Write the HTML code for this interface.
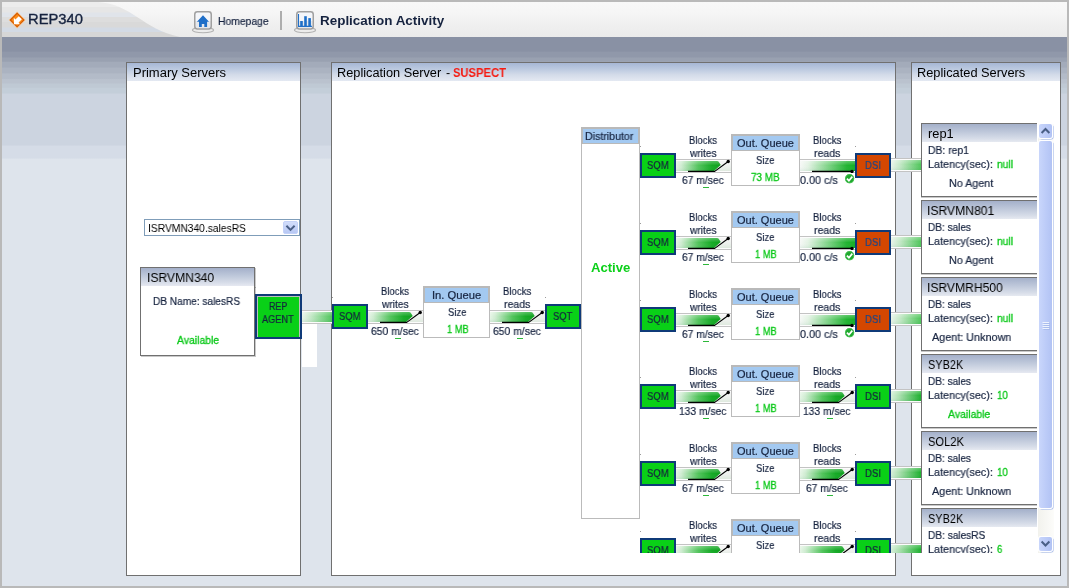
<!DOCTYPE html><html><head><meta charset="utf-8"><title>Replication Activity</title><style>
html,body{margin:0;padding:0}
body{width:1069px;height:588px;overflow:hidden;position:relative;background:#b9b9b9;font-family:"Liberation Sans",sans-serif;font-size:11px;color:#1d2b4c}
div,span,svg{position:absolute;box-sizing:border-box}
.t{white-space:nowrap;transform-origin:0 0;line-height:20px;will-change:transform;-webkit-text-stroke:0.2px}
#hdr{left:2px;top:2px;width:1065px;height:35px;background:linear-gradient(#f8f8f8 0%,#f5f5f5 35%,#f0f0f0 60%,#ebebeb 100%)}
#bg{left:2px;top:37px;width:1065px;height:549px;background:linear-gradient(to bottom,#8991a4 0px,#8991a4 14.1px,#9098aa 15.3px,#9098aa 19.9px,#99a1b1 21.1px,#99a1b1 24.2px,#a3abba 25.4px,#a3abba 30px,#abb3c1 31.2px,#abb3c1 35.8px,#b3bbc8 37px,#b3bbc8 41.4px,#bac2ce 42.6px,#bac2ce 45.9px,#bfc9d4 47.1px,#bfc9d4 50.2px,#c3ced9 51.4px,#c3ced9 56px,#ccd4e0 57.2px,#ccd4e0 108px,#d5dce7 109.2px,#d5dce7 121px,#dee4ec 122.2px,#dee4ec 549px)}
.panel{background:#fff;border:1px solid #707070}
.ptitle{left:0;top:0;right:0;height:18px;background:linear-gradient(#a6b7d5 0%,#bccae0 35%,#d3dbe9 65%,#e4e9f2 100%)}
.gbox{background:#09d017;border:2px solid #0f3a78}
.rbox{background:#d44701;border:2px solid #0f3a78}
.q{background:#fff;border:1px solid #bbb}
.qh{left:-1px;top:-1px;right:-1px;background:#a3c9f1;border:2px solid #b9b9b9;border-bottom-width:1px}
.card{background:#fff;border:1px solid #707070;border-right:none;box-shadow:0 1px 0 #c9c9c9}
.ch{left:0;top:0;right:0;height:18px;background:linear-gradient(#a4b0ca 0%,#bcc6d9 40%,#d6dce8 80%,#e6e9f1 100%)}
</style></head><body>
<div id="hdr"></div><div id="bg"></div>
<svg width="0" height="0" style="left:0;top:0"><defs><linearGradient id="gR" x1="0" y1="0" x2="1" y2="0"><stop offset="0" stop-color="#e6f5e6"/><stop offset="0.12" stop-color="#cfecd1"/><stop offset="0.5" stop-color="#52c45c"/><stop offset="0.8" stop-color="#16aa26"/><stop offset="1" stop-color="#0fa01e"/></linearGradient><linearGradient id="gP" x1="0" y1="0" x2="1" y2="0"><stop offset="0" stop-color="#eaf4ea"/><stop offset="0.3" stop-color="#c4e8c7"/><stop offset="1" stop-color="#50c65b"/></linearGradient><linearGradient id="gD" x1="0" y1="0" x2="1" y2="0"><stop offset="0" stop-color="#d8f0da"/><stop offset="0.3" stop-color="#a6deab"/><stop offset="1" stop-color="#1db02e"/></linearGradient><linearGradient id="gF" x1="0" y1="0" x2="1" y2="0"><stop offset="0" stop-color="#f6f8f6"/><stop offset="0.15" stop-color="#e2f2e3"/><stop offset="0.55" stop-color="#74d07d"/><stop offset="0.85" stop-color="#22b432"/><stop offset="1" stop-color="#14ae24"/></linearGradient><linearGradient id="gV" x1="0" y1="0" x2="0" y2="1"><stop offset="0" stop-color="#fff" stop-opacity="0.28"/><stop offset="0.45" stop-color="#fff" stop-opacity="0"/><stop offset="1" stop-color="#063" stop-opacity="0.08"/></linearGradient><linearGradient id="gT" x1="0" y1="0" x2="0" y2="1"><stop offset="0" stop-color="#f6f6f6"/><stop offset="0.5" stop-color="#eef1ee"/><stop offset="1" stop-color="#dfeadf"/></linearGradient><linearGradient id="sb" x1="0" y1="0" x2="1" y2="0"><stop offset="0" stop-color="#c9d6fb"/><stop offset="0.5" stop-color="#bdccf8"/><stop offset="1" stop-color="#b2c3f4"/></linearGradient><linearGradient id="tr" x1="0" y1="0" x2="1" y2="0"><stop offset="0" stop-color="#f2f2ed"/><stop offset="1" stop-color="#fcfcfa"/></linearGradient></defs></svg>
<svg style="left:2px;top:2px" width="200" height="35" viewBox="0 0 200 35"><defs><linearGradient id="sw" x1="0" y1="0" x2="0" y2="1"><stop offset="0.0000" stop-color="#ececec"/><stop offset="0.1286" stop-color="#ececec"/><stop offset="0.1571" stop-color="#e6e6e6"/><stop offset="0.2857" stop-color="#e6e6e6"/><stop offset="0.3143" stop-color="#e0e4ea"/><stop offset="0.4143" stop-color="#e0e4ea"/><stop offset="0.4429" stop-color="#dddddd"/><stop offset="0.5571" stop-color="#dddddd"/><stop offset="0.5857" stop-color="#d9d9d9"/><stop offset="0.7143" stop-color="#d9d9d9"/><stop offset="0.7429" stop-color="#d3dae4"/><stop offset="0.8429" stop-color="#d3dae4"/><stop offset="0.8714" stop-color="#d6d6d6"/><stop offset="1.0000" stop-color="#d6d6d6"/></linearGradient></defs><path d="M0 0 L96 0 C130 2 140 27 178 35 L0 35 Z" fill="url(#sw)"/></svg>
<svg style="left:8px;top:11px" width="18" height="18" viewBox="0 0 18 18"><path d="M9.1 0.6 L17.5 9 L9.1 17.4 L0.7 9 Z" fill="#f8c48c"/><path d="M9.1 1.4 L16.7 9 L9.1 16.6 L1.5 9 Z" fill="#d25800"/><path d="M9.1 3 L15.1 9 L9.1 15 L3.1 9 Z" fill="#fb8a18"/><path d="M6 13.2 L5.8 6.8 L7.44 8.44 L10.74 5.14 L13.86 8.26 L10.56 11.56 L12 13.2 Z" fill="#fff"/></svg>
<span class="t" style="left:27.85px;top:9px;font-size:14px;color:#16233f;-webkit-text-stroke:0.35px;transform:scaleX(1.0534);">REP340</span>
<svg style="left:191px;top:9px" width="24" height="26" viewBox="0 0 24 26"><ellipse cx="12" cy="21.1" rx="10.6" ry="2.6" fill="#ececec" stroke="#b2b2b2" stroke-width="1.1"/><rect x="3.75" y="2.85" width="16.5" height="17.1" rx="2.6" fill="#f4f6fa" stroke="#a0a0a0" stroke-width="1.5"/><rect x="4.5" y="12" width="15" height="7.2" fill="#000" opacity="0.055"/><path d="M12 6.2 L18 12.8 L16.1 12.8 L16.1 17.9 L13.3 17.9 L13.3 14.9 L10.8 14.9 L10.8 17.9 L8 17.9 L8 12.8 L5.9 12.8 Z" fill="#1f6fc8"/></svg>
<span class="t" style="left:217.70px;top:11px;font-size:11px;color:#16233f;transform:scaleX(0.9405);">Homepage</span>
<div style="left:280px;top:11px;width:2px;height:19px;background:#adadad"></div>
<svg style="left:293px;top:9px" width="24" height="26" viewBox="0 0 24 26"><ellipse cx="12" cy="21.1" rx="10.6" ry="2.6" fill="#ececec" stroke="#b2b2b2" stroke-width="1.1"/><rect x="3.75" y="2.85" width="16.5" height="17.1" rx="2.6" fill="#f4f6fa" stroke="#a0a0a0" stroke-width="1.5"/><rect x="4.5" y="12" width="15" height="7.2" fill="#000" opacity="0.055"/><path d="M5.5 4.9 L5.5 17.4 L18.9 17.4" fill="none" stroke="#1f6fc8" stroke-width="1.1"/><rect x="7.2" y="12" width="2.6" height="5.4" fill="#1f6fc8"/><rect x="11.2" y="7.2" width="2.6" height="10.2" fill="#1f6fc8"/><rect x="15.3" y="9.1" width="2.6" height="8.3" fill="#1f6fc8"/></svg>
<span class="t" style="left:319.50px;top:11px;font-size:13px;color:#16233f;font-weight:bold;-webkit-text-stroke:0;transform:scaleX(1.0337);">Replication Activity</span>
<div class="panel" style="left:126px;top:62px;width:175px;height:514px"><div class="ptitle"></div></div>
<div class="panel" style="left:331px;top:62px;width:565px;height:514px"><div class="ptitle"></div></div>
<div class="panel" style="left:911px;top:62px;width:150px;height:514px"><div class="ptitle"></div></div>
<span class="t" style="left:132.56px;top:63px;font-size:12.5px;color:#000;-webkit-text-stroke:0;transform:scaleX(1.0391);">Primary Servers</span>
<span class="t" style="left:336.58px;top:63px;font-size:12.5px;color:#000;-webkit-text-stroke:0;transform:scaleX(1.0201);">Replication Server</span>
<span class="t" style="left:446.00px;top:63px;font-size:12.5px;color:#000;-webkit-text-stroke:0;transform:scaleX(0.9750);">-</span>
<span class="t" style="left:452.70px;top:63px;font-size:12.5px;color:#f51a10;font-weight:bold;-webkit-text-stroke:0;transform:scaleX(0.8956);">SUSPECT</span>
<span class="t" style="left:917.48px;top:63px;font-size:12.5px;color:#000;-webkit-text-stroke:0;transform:scaleX(1.0244);">Replicated Servers</span>
<div style="left:144px;top:219px;width:156px;height:17px;background:#fff;border:1px solid #7f9db9"></div>
<svg style="left:283px;top:221px" width="15" height="13" viewBox="0 0 15 13"><defs><linearGradient id="ddb" x1="0" y1="0" x2="0" y2="1"><stop offset="0" stop-color="#d3defb"/><stop offset="1" stop-color="#b6c7f4"/></linearGradient></defs><rect x="0.5" y="0.5" width="14" height="12" rx="1.5" fill="url(#ddb)" stroke="#c4d2f8"/><path d="M3.4 4.8 L7.5 8.9 L11.6 4.8" fill="none" stroke="#4a5f86" stroke-width="2"/></svg>
<span class="t" style="left:147.77px;top:218px;font-size:11px;color:#000;-webkit-text-stroke:0;transform:scaleX(0.9333);">ISRVMN340.salesRS</span>
<div class="card" style="left:140px;top:267px;width:115px;height:89px;border-right:1px solid #707070;box-shadow:1px 1px 0 #c9c9c9"><div class="ch" style="height:18px"></div></div>
<span class="t" style="left:146.93px;top:268px;font-size:12.5px;color:#000;-webkit-text-stroke:0;transform:scaleX(0.9708);">ISRVMN340</span>
<span class="t" style="left:152.70px;top:291px;font-size:11px;color:#16233f;transform:scaleX(0.9183);">DB Name: salesRS</span>
<span class="t" style="left:177.00px;top:330px;font-size:11px;color:#08c816;-webkit-text-stroke:0.3px;transform:scaleX(0.9476);">Available</span>
<div style="left:302px;top:324px;width:15px;height:43px;background:#fff"></div>
<svg style="left:302px;top:310px" width="30" height="14" viewBox="0 0 30 14"><rect x="0" y="0" width="30" height="14" fill="#fcfcfc"/><rect x="0" y="0" width="30" height="1" fill="#c3c3c3"/><rect x="0" y="13" width="30" height="1" fill="#c3c3c3"/><rect x="0" y="2" width="30" height="10" fill="url(#gP)"/><rect x="0" y="2" width="30" height="10" fill="url(#gV)"/></svg>
<div class="gbox" style="left:255px;top:294px;width:47px;height:45px;box-shadow:inset 1px 1px 0 #bcc2bc,inset -1px 0 0 #bcc2bc"></div>
<span class="t" style="left:268.80px;top:296px;font-size:11px;color:#16233f;transform:scaleX(0.8079);">REP</span>
<span class="t" style="left:262.10px;top:309px;font-size:11px;color:#16233f;transform:scaleX(0.8357);">AGENT</span>
<div class="gbox" style="left:332px;top:304px;width:36px;height:25px"></div>
<span class="t" style="left:339.00px;top:306px;font-size:11px;color:#16233f;transform:scaleX(0.8557);">SQM</span>
<svg style="left:368px;top:310px" width="55" height="14" viewBox="0 0 55 14"><rect x="0" y="0" width="55" height="14" fill="#fcfcfc"/><rect x="0" y="0" width="55" height="1" fill="#c3c3c3"/><rect x="0" y="13" width="55" height="1" fill="#c3c3c3"/><rect x="37" y="2" width="18" height="10" fill="url(#gT)"/><path d="M0 2 L41 2 Q42.5 2 43.5 4 L44.7 6 L38 12 L0 12 Z" fill="url(#gR)"/><path d="M0 2 L41 2 Q42.5 2 43.5 4 L44.7 6 L38 12 L0 12 Z" fill="url(#gV)"/><path d="M12 12.4 L38.7 12.4 L52.2 2.5" fill="none" stroke="#000" stroke-width="1.15" stroke-linejoin="round"/><circle cx="52.2" cy="2.5" r="1.7" fill="#000"/></svg>
<span class="t" style="left:380.70px;top:281px;font-size:11px;color:#16233f;transform:scaleX(0.8602);">Blocks</span>
<span class="t" style="left:381.93px;top:294px;font-size:11px;color:#16233f;transform:scaleX(0.9264);">writes</span>
<span class="t" style="left:370.85px;top:321px;font-size:11px;color:#16233f;transform:scaleX(0.9425);">650 m/sec</span>
<div style="left:394.5px;top:338px;width:6px;height:1px;background:#2db83a"></div>
<div class="q" style="left:423px;top:286px;width:67px;height:52px"><div class="qh" style="height:17px"></div></div><span class="t" style="left:431.78px;top:285px;font-size:11px;color:#16233f;transform:scaleX(1.0192);">In. Queue</span><span class="t" style="left:447.70px;top:302px;font-size:11px;color:#16233f;transform:scaleX(0.8646);">Size</span><span class="t" style="left:446.65px;top:319px;font-size:11px;color:#08c816;-webkit-text-stroke:0.3px;transform:scaleX(0.8486);">1 MB</span>
<svg style="left:490px;top:310px" width="55" height="14" viewBox="0 0 55 14"><rect x="0" y="0" width="55" height="14" fill="#fcfcfc"/><rect x="0" y="0" width="55" height="1" fill="#c3c3c3"/><rect x="0" y="13" width="55" height="1" fill="#c3c3c3"/><rect x="37" y="2" width="18" height="10" fill="url(#gT)"/><path d="M0 2 L41 2 Q42.5 2 43.5 4 L44.7 6 L38 12 L0 12 Z" fill="url(#gR)"/><path d="M0 2 L41 2 Q42.5 2 43.5 4 L44.7 6 L38 12 L0 12 Z" fill="url(#gV)"/><path d="M12 12.4 L38.7 12.4 L52.2 2.5" fill="none" stroke="#000" stroke-width="1.15" stroke-linejoin="round"/><circle cx="52.2" cy="2.5" r="1.7" fill="#000"/></svg>
<span class="t" style="left:502.60px;top:281px;font-size:11px;color:#16233f;transform:scaleX(0.8693);">Blocks</span>
<span class="t" style="left:503.50px;top:294px;font-size:11px;color:#16233f;transform:scaleX(0.9566);">reads</span>
<span class="t" style="left:492.85px;top:321px;font-size:11px;color:#16233f;transform:scaleX(0.9425);">650 m/sec</span>
<div style="left:516.5px;top:338px;width:6px;height:1px;background:#2db83a"></div>
<div class="gbox" style="left:545px;top:304px;width:36px;height:25px"></div>
<span class="t" style="left:552.60px;top:306px;font-size:11px;color:#16233f;transform:scaleX(0.8518);">SQT</span>
<div style="left:545px;top:297px;width:1px;height:1px;background:#9c9c9c"></div>
<div style="left:332px;top:297px;width:1px;height:1px;background:#9c9c9c"></div>
<div style="left:255px;top:287px;width:1px;height:1px;background:#9c9c9c"></div>
<div class="q" style="left:581px;top:127px;width:59px;height:392px"><div class="qh" style="height:17px"></div></div>
<span class="t" style="left:584.90px;top:126px;font-size:11px;color:#16233f;transform:scaleX(0.9651);">Distributor</span>
<span class="t" style="left:590.80px;top:258px;font-size:12.5px;color:#0cd01a;font-weight:bold;-webkit-text-stroke:0;transform:scaleX(1.0488);">Active</span>
<div style="left:0;top:0;width:1069px;height:553px;overflow:hidden">
<div class="gbox" style="left:640px;top:153px;width:36px;height:25px"></div>
<div style="left:640px;top:146px;width:1px;height:1px;background:#9c9c9c"></div>
<div style="left:855px;top:146px;width:1px;height:1px;background:#9c9c9c"></div>
<span class="t" style="left:646.80px;top:155px;font-size:11px;color:#16233f;transform:scaleX(0.8637);">SQM</span>
<svg style="left:676px;top:159px" width="55" height="14" viewBox="0 0 55 14"><rect x="0" y="0" width="55" height="14" fill="#fcfcfc"/><rect x="0" y="0" width="55" height="1" fill="#c3c3c3"/><rect x="0" y="13" width="55" height="1" fill="#c3c3c3"/><rect x="37" y="2" width="18" height="10" fill="url(#gT)"/><path d="M0 2 L41 2 Q42.5 2 43.5 4 L44.7 6 L38 12 L0 12 Z" fill="url(#gR)"/><path d="M0 2 L41 2 Q42.5 2 43.5 4 L44.7 6 L38 12 L0 12 Z" fill="url(#gV)"/><path d="M12 12.4 L38.7 12.4 L52.2 2.5" fill="none" stroke="#000" stroke-width="1.15" stroke-linejoin="round"/><circle cx="52.2" cy="2.5" r="1.7" fill="#000"/></svg>
<span class="t" style="left:688.80px;top:130px;font-size:11px;color:#16233f;transform:scaleX(0.8602);">Blocks</span>
<span class="t" style="left:689.93px;top:143px;font-size:11px;color:#16233f;transform:scaleX(0.9264);">writes</span>
<span class="t" style="left:681.90px;top:170px;font-size:11px;color:#16233f;transform:scaleX(0.9351);">67 m/sec</span>
<div style="left:702.6px;top:187px;width:6px;height:1px;background:#2db83a"></div>
<div class="q" style="left:731px;top:134px;width:69px;height:52px"><div class="qh" style="height:17px"></div></div><span class="t" style="left:736.70px;top:133px;font-size:11px;color:#16233f;">Out. Queue</span><span class="t" style="left:755.65px;top:150px;font-size:11px;color:#16233f;transform:scaleX(0.8646);">Size</span><span class="t" style="left:750.80px;top:167px;font-size:11px;color:#08c816;-webkit-text-stroke:0.3px;transform:scaleX(0.8997);">73 MB</span>
<span class="t" style="left:812.60px;top:130px;font-size:11px;color:#16233f;transform:scaleX(0.8724);">Blocks</span>
<span class="t" style="left:813.50px;top:143px;font-size:11px;color:#16233f;transform:scaleX(0.9566);">reads</span>
<svg style="left:800px;top:159px" width="55" height="14" viewBox="0 0 55 14"><rect x="0" y="0" width="55" height="14" fill="#fcfcfc"/><rect x="0" y="0" width="55" height="1" fill="#c3c3c3"/><rect x="0" y="13" width="55" height="1" fill="#c3c3c3"/><rect x="0" y="2" width="55" height="10" fill="url(#gF)"/><rect x="0" y="2" width="55" height="10" fill="url(#gV)"/><path d="M12 12.4 L52 12.4" fill="none" stroke="#000" stroke-width="1.15"/><circle cx="52" cy="12.4" r="1.7" fill="#000"/></svg>
<span class="t" style="left:799.80px;top:170px;font-size:11px;color:#16233f;transform:scaleX(0.9815);">0.00 c/s</span>
<svg style="left:844px;top:173px" width="11" height="11" viewBox="0 0 11 11"><circle cx="5.6" cy="5.7" r="4.6" fill="#1fa82e"/><circle cx="5.6" cy="5.7" r="4.1" fill="none" stroke="#5fd06a" stroke-width="0.6"/><path d="M2.9 5.7 L4.9 7.7 L8.3 3.6" fill="none" stroke="#fff" stroke-width="1.7"/></svg>
<div class="rbox" style="left:855px;top:153px;width:36px;height:25px"></div>
<span class="t" style="left:864.90px;top:155px;font-size:11px;color:#1b4788;transform:scaleX(0.8698);">DSI</span>
<svg style="left:891px;top:158px" width="30" height="14" viewBox="0 0 30 14"><rect x="0" y="0" width="30" height="14" fill="#fcfcfc"/><rect x="0" y="0" width="30" height="1" fill="#c3c3c3"/><rect x="0" y="13" width="30" height="1" fill="#c3c3c3"/><rect x="0" y="2" width="30" height="10" fill="url(#gP)"/><rect x="0" y="2" width="30" height="10" fill="url(#gV)"/></svg>
<div class="gbox" style="left:640px;top:230px;width:36px;height:25px"></div>
<div style="left:640px;top:223px;width:1px;height:1px;background:#9c9c9c"></div>
<div style="left:855px;top:223px;width:1px;height:1px;background:#9c9c9c"></div>
<span class="t" style="left:646.80px;top:232px;font-size:11px;color:#16233f;transform:scaleX(0.8637);">SQM</span>
<svg style="left:676px;top:236px" width="55" height="14" viewBox="0 0 55 14"><rect x="0" y="0" width="55" height="14" fill="#fcfcfc"/><rect x="0" y="0" width="55" height="1" fill="#c3c3c3"/><rect x="0" y="13" width="55" height="1" fill="#c3c3c3"/><rect x="37" y="2" width="18" height="10" fill="url(#gT)"/><path d="M0 2 L41 2 Q42.5 2 43.5 4 L44.7 6 L38 12 L0 12 Z" fill="url(#gR)"/><path d="M0 2 L41 2 Q42.5 2 43.5 4 L44.7 6 L38 12 L0 12 Z" fill="url(#gV)"/><path d="M12 12.4 L38.7 12.4 L52.2 2.5" fill="none" stroke="#000" stroke-width="1.15" stroke-linejoin="round"/><circle cx="52.2" cy="2.5" r="1.7" fill="#000"/></svg>
<span class="t" style="left:688.80px;top:207px;font-size:11px;color:#16233f;transform:scaleX(0.8602);">Blocks</span>
<span class="t" style="left:689.93px;top:220px;font-size:11px;color:#16233f;transform:scaleX(0.9264);">writes</span>
<span class="t" style="left:681.90px;top:247px;font-size:11px;color:#16233f;transform:scaleX(0.9351);">67 m/sec</span>
<div style="left:702.6px;top:264px;width:6px;height:1px;background:#2db83a"></div>
<div class="q" style="left:731px;top:211px;width:69px;height:52px"><div class="qh" style="height:17px"></div></div><span class="t" style="left:736.70px;top:210px;font-size:11px;color:#16233f;">Out. Queue</span><span class="t" style="left:755.65px;top:227px;font-size:11px;color:#16233f;transform:scaleX(0.8646);">Size</span><span class="t" style="left:754.75px;top:244px;font-size:11px;color:#08c816;-webkit-text-stroke:0.3px;transform:scaleX(0.8486);">1 MB</span>
<span class="t" style="left:812.60px;top:207px;font-size:11px;color:#16233f;transform:scaleX(0.8724);">Blocks</span>
<span class="t" style="left:813.50px;top:220px;font-size:11px;color:#16233f;transform:scaleX(0.9566);">reads</span>
<svg style="left:800px;top:236px" width="55" height="14" viewBox="0 0 55 14"><rect x="0" y="0" width="55" height="14" fill="#fcfcfc"/><rect x="0" y="0" width="55" height="1" fill="#c3c3c3"/><rect x="0" y="13" width="55" height="1" fill="#c3c3c3"/><rect x="0" y="2" width="55" height="10" fill="url(#gF)"/><rect x="0" y="2" width="55" height="10" fill="url(#gV)"/><path d="M12 12.4 L52 12.4" fill="none" stroke="#000" stroke-width="1.15"/><circle cx="52" cy="12.4" r="1.7" fill="#000"/></svg>
<span class="t" style="left:799.80px;top:247px;font-size:11px;color:#16233f;transform:scaleX(0.9815);">0.00 c/s</span>
<svg style="left:844px;top:250px" width="11" height="11" viewBox="0 0 11 11"><circle cx="5.6" cy="5.7" r="4.6" fill="#1fa82e"/><circle cx="5.6" cy="5.7" r="4.1" fill="none" stroke="#5fd06a" stroke-width="0.6"/><path d="M2.9 5.7 L4.9 7.7 L8.3 3.6" fill="none" stroke="#fff" stroke-width="1.7"/></svg>
<div class="rbox" style="left:855px;top:230px;width:36px;height:25px"></div>
<span class="t" style="left:864.90px;top:232px;font-size:11px;color:#1b4788;transform:scaleX(0.8698);">DSI</span>
<svg style="left:891px;top:235px" width="30" height="14" viewBox="0 0 30 14"><rect x="0" y="0" width="30" height="14" fill="#fcfcfc"/><rect x="0" y="0" width="30" height="1" fill="#c3c3c3"/><rect x="0" y="13" width="30" height="1" fill="#c3c3c3"/><rect x="0" y="2" width="30" height="10" fill="url(#gP)"/><rect x="0" y="2" width="30" height="10" fill="url(#gV)"/></svg>
<div class="gbox" style="left:640px;top:307px;width:36px;height:25px"></div>
<div style="left:640px;top:300px;width:1px;height:1px;background:#9c9c9c"></div>
<div style="left:855px;top:300px;width:1px;height:1px;background:#9c9c9c"></div>
<span class="t" style="left:646.80px;top:309px;font-size:11px;color:#16233f;transform:scaleX(0.8637);">SQM</span>
<svg style="left:676px;top:313px" width="55" height="14" viewBox="0 0 55 14"><rect x="0" y="0" width="55" height="14" fill="#fcfcfc"/><rect x="0" y="0" width="55" height="1" fill="#c3c3c3"/><rect x="0" y="13" width="55" height="1" fill="#c3c3c3"/><rect x="37" y="2" width="18" height="10" fill="url(#gT)"/><path d="M0 2 L41 2 Q42.5 2 43.5 4 L44.7 6 L38 12 L0 12 Z" fill="url(#gR)"/><path d="M0 2 L41 2 Q42.5 2 43.5 4 L44.7 6 L38 12 L0 12 Z" fill="url(#gV)"/><path d="M12 12.4 L38.7 12.4 L52.2 2.5" fill="none" stroke="#000" stroke-width="1.15" stroke-linejoin="round"/><circle cx="52.2" cy="2.5" r="1.7" fill="#000"/></svg>
<span class="t" style="left:688.80px;top:284px;font-size:11px;color:#16233f;transform:scaleX(0.8602);">Blocks</span>
<span class="t" style="left:689.93px;top:297px;font-size:11px;color:#16233f;transform:scaleX(0.9264);">writes</span>
<span class="t" style="left:681.90px;top:324px;font-size:11px;color:#16233f;transform:scaleX(0.9351);">67 m/sec</span>
<div style="left:702.6px;top:341px;width:6px;height:1px;background:#2db83a"></div>
<div class="q" style="left:731px;top:288px;width:69px;height:52px"><div class="qh" style="height:17px"></div></div><span class="t" style="left:736.70px;top:287px;font-size:11px;color:#16233f;">Out. Queue</span><span class="t" style="left:755.65px;top:304px;font-size:11px;color:#16233f;transform:scaleX(0.8646);">Size</span><span class="t" style="left:754.75px;top:321px;font-size:11px;color:#08c816;-webkit-text-stroke:0.3px;transform:scaleX(0.8486);">1 MB</span>
<span class="t" style="left:812.60px;top:284px;font-size:11px;color:#16233f;transform:scaleX(0.8724);">Blocks</span>
<span class="t" style="left:813.50px;top:297px;font-size:11px;color:#16233f;transform:scaleX(0.9566);">reads</span>
<svg style="left:800px;top:313px" width="55" height="14" viewBox="0 0 55 14"><rect x="0" y="0" width="55" height="14" fill="#fcfcfc"/><rect x="0" y="0" width="55" height="1" fill="#c3c3c3"/><rect x="0" y="13" width="55" height="1" fill="#c3c3c3"/><rect x="0" y="2" width="55" height="10" fill="url(#gF)"/><rect x="0" y="2" width="55" height="10" fill="url(#gV)"/><path d="M12 12.4 L52 12.4" fill="none" stroke="#000" stroke-width="1.15"/><circle cx="52" cy="12.4" r="1.7" fill="#000"/></svg>
<span class="t" style="left:799.80px;top:324px;font-size:11px;color:#16233f;transform:scaleX(0.9815);">0.00 c/s</span>
<svg style="left:844px;top:327px" width="11" height="11" viewBox="0 0 11 11"><circle cx="5.6" cy="5.7" r="4.6" fill="#1fa82e"/><circle cx="5.6" cy="5.7" r="4.1" fill="none" stroke="#5fd06a" stroke-width="0.6"/><path d="M2.9 5.7 L4.9 7.7 L8.3 3.6" fill="none" stroke="#fff" stroke-width="1.7"/></svg>
<div class="rbox" style="left:855px;top:307px;width:36px;height:25px"></div>
<span class="t" style="left:864.90px;top:309px;font-size:11px;color:#1b4788;transform:scaleX(0.8698);">DSI</span>
<svg style="left:891px;top:312px" width="30" height="14" viewBox="0 0 30 14"><rect x="0" y="0" width="30" height="14" fill="#fcfcfc"/><rect x="0" y="0" width="30" height="1" fill="#c3c3c3"/><rect x="0" y="13" width="30" height="1" fill="#c3c3c3"/><rect x="0" y="2" width="30" height="10" fill="url(#gP)"/><rect x="0" y="2" width="30" height="10" fill="url(#gV)"/></svg>
<div class="gbox" style="left:640px;top:384px;width:36px;height:25px"></div>
<div style="left:640px;top:377px;width:1px;height:1px;background:#9c9c9c"></div>
<div style="left:855px;top:377px;width:1px;height:1px;background:#9c9c9c"></div>
<span class="t" style="left:646.80px;top:386px;font-size:11px;color:#16233f;transform:scaleX(0.8637);">SQM</span>
<svg style="left:676px;top:390px" width="55" height="14" viewBox="0 0 55 14"><rect x="0" y="0" width="55" height="14" fill="#fcfcfc"/><rect x="0" y="0" width="55" height="1" fill="#c3c3c3"/><rect x="0" y="13" width="55" height="1" fill="#c3c3c3"/><rect x="37" y="2" width="18" height="10" fill="url(#gT)"/><path d="M0 2 L41 2 Q42.5 2 43.5 4 L44.7 6 L38 12 L0 12 Z" fill="url(#gR)"/><path d="M0 2 L41 2 Q42.5 2 43.5 4 L44.7 6 L38 12 L0 12 Z" fill="url(#gV)"/><path d="M12 12.4 L38.7 12.4 L52.2 2.5" fill="none" stroke="#000" stroke-width="1.15" stroke-linejoin="round"/><circle cx="52.2" cy="2.5" r="1.7" fill="#000"/></svg>
<span class="t" style="left:688.80px;top:361px;font-size:11px;color:#16233f;transform:scaleX(0.8602);">Blocks</span>
<span class="t" style="left:689.93px;top:374px;font-size:11px;color:#16233f;transform:scaleX(0.9264);">writes</span>
<span class="t" style="left:679.10px;top:401px;font-size:11px;color:#16233f;transform:scaleX(0.9328);">133 m/sec</span>
<div style="left:702.6px;top:418px;width:6px;height:1px;background:#2db83a"></div>
<div class="q" style="left:731px;top:365px;width:69px;height:52px"><div class="qh" style="height:17px"></div></div><span class="t" style="left:736.70px;top:364px;font-size:11px;color:#16233f;">Out. Queue</span><span class="t" style="left:755.65px;top:381px;font-size:11px;color:#16233f;transform:scaleX(0.8646);">Size</span><span class="t" style="left:754.75px;top:398px;font-size:11px;color:#08c816;-webkit-text-stroke:0.3px;transform:scaleX(0.8486);">1 MB</span>
<span class="t" style="left:812.60px;top:361px;font-size:11px;color:#16233f;transform:scaleX(0.8724);">Blocks</span>
<span class="t" style="left:813.50px;top:374px;font-size:11px;color:#16233f;transform:scaleX(0.9566);">reads</span>
<svg style="left:800px;top:390px" width="55" height="14" viewBox="0 0 55 14"><rect x="0" y="0" width="55" height="14" fill="#fcfcfc"/><rect x="0" y="0" width="55" height="1" fill="#c3c3c3"/><rect x="0" y="13" width="55" height="1" fill="#c3c3c3"/><rect x="37" y="2" width="18" height="10" fill="url(#gT)"/><path d="M0 2 L41 2 Q42.5 2 43.5 4 L44.7 6 L38 12 L0 12 Z" fill="url(#gR)"/><path d="M0 2 L41 2 Q42.5 2 43.5 4 L44.7 6 L38 12 L0 12 Z" fill="url(#gV)"/><path d="M12 12.4 L38.7 12.4 L52.2 2.5" fill="none" stroke="#000" stroke-width="1.15" stroke-linejoin="round"/><circle cx="52.2" cy="2.5" r="1.7" fill="#000"/></svg>
<span class="t" style="left:803.10px;top:401px;font-size:11px;color:#16233f;transform:scaleX(0.9328);">133 m/sec</span>
<div style="left:826.5px;top:418px;width:6px;height:1px;background:#2db83a"></div>
<div class="gbox" style="left:855px;top:384px;width:36px;height:25px"></div>
<span class="t" style="left:864.90px;top:386px;font-size:11px;color:#16233f;transform:scaleX(0.8698);">DSI</span>
<svg style="left:891px;top:389px" width="30" height="14" viewBox="0 0 30 14"><rect x="0" y="0" width="30" height="14" fill="#fcfcfc"/><rect x="0" y="0" width="30" height="1" fill="#c3c3c3"/><rect x="0" y="13" width="30" height="1" fill="#c3c3c3"/><rect x="0" y="2" width="30" height="10" fill="url(#gD)"/><rect x="0" y="2" width="30" height="10" fill="url(#gV)"/></svg>
<div class="gbox" style="left:640px;top:461px;width:36px;height:25px"></div>
<div style="left:640px;top:454px;width:1px;height:1px;background:#9c9c9c"></div>
<div style="left:855px;top:454px;width:1px;height:1px;background:#9c9c9c"></div>
<span class="t" style="left:646.80px;top:463px;font-size:11px;color:#16233f;transform:scaleX(0.8637);">SQM</span>
<svg style="left:676px;top:467px" width="55" height="14" viewBox="0 0 55 14"><rect x="0" y="0" width="55" height="14" fill="#fcfcfc"/><rect x="0" y="0" width="55" height="1" fill="#c3c3c3"/><rect x="0" y="13" width="55" height="1" fill="#c3c3c3"/><rect x="37" y="2" width="18" height="10" fill="url(#gT)"/><path d="M0 2 L41 2 Q42.5 2 43.5 4 L44.7 6 L38 12 L0 12 Z" fill="url(#gR)"/><path d="M0 2 L41 2 Q42.5 2 43.5 4 L44.7 6 L38 12 L0 12 Z" fill="url(#gV)"/><path d="M12 12.4 L38.7 12.4 L52.2 2.5" fill="none" stroke="#000" stroke-width="1.15" stroke-linejoin="round"/><circle cx="52.2" cy="2.5" r="1.7" fill="#000"/></svg>
<span class="t" style="left:688.80px;top:438px;font-size:11px;color:#16233f;transform:scaleX(0.8602);">Blocks</span>
<span class="t" style="left:689.93px;top:451px;font-size:11px;color:#16233f;transform:scaleX(0.9264);">writes</span>
<span class="t" style="left:681.90px;top:478px;font-size:11px;color:#16233f;transform:scaleX(0.9351);">67 m/sec</span>
<div style="left:702.6px;top:495px;width:6px;height:1px;background:#2db83a"></div>
<div class="q" style="left:731px;top:442px;width:69px;height:52px"><div class="qh" style="height:17px"></div></div><span class="t" style="left:736.70px;top:441px;font-size:11px;color:#16233f;">Out. Queue</span><span class="t" style="left:755.65px;top:458px;font-size:11px;color:#16233f;transform:scaleX(0.8646);">Size</span><span class="t" style="left:754.75px;top:475px;font-size:11px;color:#08c816;-webkit-text-stroke:0.3px;transform:scaleX(0.8486);">1 MB</span>
<span class="t" style="left:812.60px;top:438px;font-size:11px;color:#16233f;transform:scaleX(0.8724);">Blocks</span>
<span class="t" style="left:813.50px;top:451px;font-size:11px;color:#16233f;transform:scaleX(0.9566);">reads</span>
<svg style="left:800px;top:467px" width="55" height="14" viewBox="0 0 55 14"><rect x="0" y="0" width="55" height="14" fill="#fcfcfc"/><rect x="0" y="0" width="55" height="1" fill="#c3c3c3"/><rect x="0" y="13" width="55" height="1" fill="#c3c3c3"/><rect x="37" y="2" width="18" height="10" fill="url(#gT)"/><path d="M0 2 L41 2 Q42.5 2 43.5 4 L44.7 6 L38 12 L0 12 Z" fill="url(#gR)"/><path d="M0 2 L41 2 Q42.5 2 43.5 4 L44.7 6 L38 12 L0 12 Z" fill="url(#gV)"/><path d="M12 12.4 L38.7 12.4 L52.2 2.5" fill="none" stroke="#000" stroke-width="1.15" stroke-linejoin="round"/><circle cx="52.2" cy="2.5" r="1.7" fill="#000"/></svg>
<span class="t" style="left:805.90px;top:478px;font-size:11px;color:#16233f;transform:scaleX(0.9351);">67 m/sec</span>
<div style="left:826.5px;top:495px;width:6px;height:1px;background:#2db83a"></div>
<div class="gbox" style="left:855px;top:461px;width:36px;height:25px"></div>
<span class="t" style="left:864.90px;top:463px;font-size:11px;color:#16233f;transform:scaleX(0.8698);">DSI</span>
<svg style="left:891px;top:466px" width="30" height="14" viewBox="0 0 30 14"><rect x="0" y="0" width="30" height="14" fill="#fcfcfc"/><rect x="0" y="0" width="30" height="1" fill="#c3c3c3"/><rect x="0" y="13" width="30" height="1" fill="#c3c3c3"/><rect x="0" y="2" width="30" height="10" fill="url(#gD)"/><rect x="0" y="2" width="30" height="10" fill="url(#gV)"/></svg>
<div class="gbox" style="left:640px;top:538px;width:36px;height:25px"></div>
<div style="left:640px;top:531px;width:1px;height:1px;background:#9c9c9c"></div>
<div style="left:855px;top:531px;width:1px;height:1px;background:#9c9c9c"></div>
<span class="t" style="left:646.80px;top:540px;font-size:11px;color:#16233f;transform:scaleX(0.8637);">SQM</span>
<svg style="left:676px;top:544px" width="55" height="14" viewBox="0 0 55 14"><rect x="0" y="0" width="55" height="14" fill="#fcfcfc"/><rect x="0" y="0" width="55" height="1" fill="#c3c3c3"/><rect x="0" y="13" width="55" height="1" fill="#c3c3c3"/><rect x="37" y="2" width="18" height="10" fill="url(#gT)"/><path d="M0 2 L41 2 Q42.5 2 43.5 4 L44.7 6 L38 12 L0 12 Z" fill="url(#gR)"/><path d="M0 2 L41 2 Q42.5 2 43.5 4 L44.7 6 L38 12 L0 12 Z" fill="url(#gV)"/><path d="M12 12.4 L38.7 12.4 L52.2 2.5" fill="none" stroke="#000" stroke-width="1.15" stroke-linejoin="round"/><circle cx="52.2" cy="2.5" r="1.7" fill="#000"/></svg>
<span class="t" style="left:688.80px;top:515px;font-size:11px;color:#16233f;transform:scaleX(0.8602);">Blocks</span>
<span class="t" style="left:689.93px;top:528px;font-size:11px;color:#16233f;transform:scaleX(0.9264);">writes</span>
<span class="t" style="left:681.90px;top:555px;font-size:11px;color:#16233f;transform:scaleX(0.9351);">67 m/sec</span>
<div style="left:702.6px;top:572px;width:6px;height:1px;background:#2db83a"></div>
<div class="q" style="left:731px;top:519px;width:69px;height:52px"><div class="qh" style="height:17px"></div></div><span class="t" style="left:736.70px;top:518px;font-size:11px;color:#16233f;">Out. Queue</span><span class="t" style="left:755.65px;top:535px;font-size:11px;color:#16233f;transform:scaleX(0.8646);">Size</span><span class="t" style="left:754.75px;top:552px;font-size:11px;color:#08c816;-webkit-text-stroke:0.3px;transform:scaleX(0.8486);">1 MB</span>
<span class="t" style="left:812.60px;top:515px;font-size:11px;color:#16233f;transform:scaleX(0.8724);">Blocks</span>
<span class="t" style="left:813.50px;top:528px;font-size:11px;color:#16233f;transform:scaleX(0.9566);">reads</span>
<svg style="left:800px;top:544px" width="55" height="14" viewBox="0 0 55 14"><rect x="0" y="0" width="55" height="14" fill="#fcfcfc"/><rect x="0" y="0" width="55" height="1" fill="#c3c3c3"/><rect x="0" y="13" width="55" height="1" fill="#c3c3c3"/><rect x="37" y="2" width="18" height="10" fill="url(#gT)"/><path d="M0 2 L41 2 Q42.5 2 43.5 4 L44.7 6 L38 12 L0 12 Z" fill="url(#gR)"/><path d="M0 2 L41 2 Q42.5 2 43.5 4 L44.7 6 L38 12 L0 12 Z" fill="url(#gV)"/><path d="M12 12.4 L38.7 12.4 L52.2 2.5" fill="none" stroke="#000" stroke-width="1.15" stroke-linejoin="round"/><circle cx="52.2" cy="2.5" r="1.7" fill="#000"/></svg>
<span class="t" style="left:805.90px;top:555px;font-size:11px;color:#16233f;transform:scaleX(0.9351);">67 m/sec</span>
<div style="left:826.5px;top:572px;width:6px;height:1px;background:#2db83a"></div>
<div class="gbox" style="left:855px;top:538px;width:36px;height:25px"></div>
<span class="t" style="left:864.90px;top:540px;font-size:11px;color:#16233f;transform:scaleX(0.8698);">DSI</span>
<svg style="left:891px;top:543px" width="30" height="14" viewBox="0 0 30 14"><rect x="0" y="0" width="30" height="14" fill="#fcfcfc"/><rect x="0" y="0" width="30" height="1" fill="#c3c3c3"/><rect x="0" y="13" width="30" height="1" fill="#c3c3c3"/><rect x="0" y="2" width="30" height="10" fill="url(#gD)"/><rect x="0" y="2" width="30" height="10" fill="url(#gV)"/></svg>
<div class="card" style="left:921px;top:123px;width:116px;height:74px"><div class="ch"></div></div>
<span class="t" style="left:928.40px;top:124px;font-size:12.5px;color:#000;-webkit-text-stroke:0;transform:scaleX(1.0253);">rep1</span>
<span class="t" style="left:927.80px;top:140px;font-size:11px;color:#16233f;transform:scaleX(0.9424);">DB: rep1</span>
<span class="t" style="left:927.80px;top:154px;font-size:11px;color:#16233f;transform:scaleX(0.9823);">Latency(sec):</span>
<span class="t" style="left:996.90px;top:154px;font-size:11px;color:#08c816;-webkit-text-stroke:0.3px;transform:scaleX(0.9353);">null</span>
<span class="t" style="left:948.70px;top:173px;font-size:11px;color:#16233f;transform:scaleX(0.9780);">No Agent</span>
<div class="card" style="left:921px;top:200px;width:116px;height:74px"><div class="ch"></div></div>
<span class="t" style="left:927.43px;top:201px;font-size:12.5px;color:#000;-webkit-text-stroke:0;transform:scaleX(0.9723);">ISRVMN801</span>
<span class="t" style="left:927.80px;top:217px;font-size:11px;color:#16233f;transform:scaleX(0.9123);">DB: sales</span>
<span class="t" style="left:927.80px;top:231px;font-size:11px;color:#16233f;transform:scaleX(0.9823);">Latency(sec):</span>
<span class="t" style="left:996.90px;top:231px;font-size:11px;color:#08c816;-webkit-text-stroke:0.3px;transform:scaleX(0.9353);">null</span>
<span class="t" style="left:948.70px;top:250px;font-size:11px;color:#16233f;transform:scaleX(0.9780);">No Agent</span>
<div class="card" style="left:921px;top:277px;width:116px;height:74px"><div class="ch"></div></div>
<span class="t" style="left:927.43px;top:278px;font-size:12.5px;color:#000;-webkit-text-stroke:0;transform:scaleX(0.9687);">ISRVMRH500</span>
<span class="t" style="left:927.80px;top:294px;font-size:11px;color:#16233f;transform:scaleX(0.9123);">DB: sales</span>
<span class="t" style="left:927.80px;top:308px;font-size:11px;color:#16233f;transform:scaleX(0.9823);">Latency(sec):</span>
<span class="t" style="left:996.90px;top:308px;font-size:11px;color:#08c816;-webkit-text-stroke:0.3px;transform:scaleX(0.9353);">null</span>
<span class="t" style="left:931.90px;top:327px;font-size:11px;color:#16233f;transform:scaleX(0.9826);">Agent: Unknown</span>
<div class="card" style="left:921px;top:354px;width:116px;height:74px"><div class="ch"></div></div>
<span class="t" style="left:928.40px;top:355px;font-size:12.5px;color:#000;-webkit-text-stroke:0;transform:scaleX(0.8739);">SYB2K</span>
<span class="t" style="left:927.80px;top:371px;font-size:11px;color:#16233f;transform:scaleX(0.9123);">DB: sales</span>
<span class="t" style="left:927.80px;top:385px;font-size:11px;color:#16233f;transform:scaleX(0.9823);">Latency(sec):</span>
<span class="t" style="left:997.40px;top:385px;font-size:11px;color:#08c816;-webkit-text-stroke:0.3px;transform:scaleX(0.8913);">10</span>
<span class="t" style="left:947.90px;top:404px;font-size:11px;color:#08c816;-webkit-text-stroke:0.3px;transform:scaleX(0.9521);">Available</span>
<div class="card" style="left:921px;top:431px;width:116px;height:74px"><div class="ch"></div></div>
<span class="t" style="left:928.40px;top:432px;font-size:12.5px;color:#000;-webkit-text-stroke:0;transform:scaleX(0.8910);">SOL2K</span>
<span class="t" style="left:927.80px;top:448px;font-size:11px;color:#16233f;transform:scaleX(0.9123);">DB: sales</span>
<span class="t" style="left:927.80px;top:462px;font-size:11px;color:#16233f;transform:scaleX(0.9823);">Latency(sec):</span>
<span class="t" style="left:997.40px;top:462px;font-size:11px;color:#08c816;-webkit-text-stroke:0.3px;transform:scaleX(0.8913);">10</span>
<span class="t" style="left:931.90px;top:481px;font-size:11px;color:#16233f;transform:scaleX(0.9826);">Agent: Unknown</span>
<div class="card" style="left:921px;top:508px;width:116px;height:74px"><div class="ch"></div></div>
<span class="t" style="left:928.40px;top:509px;font-size:12.5px;color:#000;-webkit-text-stroke:0;transform:scaleX(0.8739);">SYB2K</span>
<span class="t" style="left:927.80px;top:525px;font-size:11px;color:#16233f;transform:scaleX(0.9191);">DB: salesRS</span>
<span class="t" style="left:927.80px;top:539px;font-size:11px;color:#16233f;transform:scaleX(0.9823);">Latency(sec):</span>
<span class="t" style="left:997.40px;top:539px;font-size:11px;color:#08c816;-webkit-text-stroke:0.3px;transform:scaleX(0.8667);">6</span>
</div>
<svg style="left:1038px;top:123px" width="16" height="431" viewBox="0 0 16 431"><rect x="0" y="1" width="16" height="429" fill="url(#tr)"/><rect x="1.5" y="1.5" width="14" height="15" rx="2.5" fill="#98afe8"/><rect x="0" y="0" width="15" height="16" rx="2.5" fill="#fff"/><rect x="1" y="1" width="13" height="14" rx="2" fill="url(#sb)"/><path d="M3.6 10 L7.5 6 L11.4 10" fill="none" stroke="#4a5f86" stroke-width="2"/><rect x="1.5" y="18.5" width="14" height="368" rx="2.5" fill="#98afe8"/><rect x="0" y="17" width="15" height="369" rx="2.5" fill="#fff"/><rect x="1" y="18" width="13" height="367" rx="2" fill="url(#sb)"/><path d="M4.5 199.5 h6.5 M4.5 201.5 h6.5 M4.5 203.5 h6.5 M4.5 205.5 h6.5" stroke="#eef3fe" stroke-width="1"/><path d="M5.5 200.5 h6.5 M5.5 202.5 h6.5 M5.5 204.5 h6.5 M5.5 206.5 h6.5" stroke="#9db2e6" stroke-width="1" opacity="0.6"/><rect x="1.5" y="414.5" width="14" height="15" rx="2.5" fill="#98afe8"/><rect x="0" y="413" width="15" height="16" rx="2.5" fill="#fff"/><rect x="1" y="414" width="13" height="14" rx="2" fill="url(#sb)"/><path d="M3.6 418.5 L7.5 422.5 L11.4 418.5" fill="none" stroke="#4a5f86" stroke-width="2"/></svg>
</body></html>
